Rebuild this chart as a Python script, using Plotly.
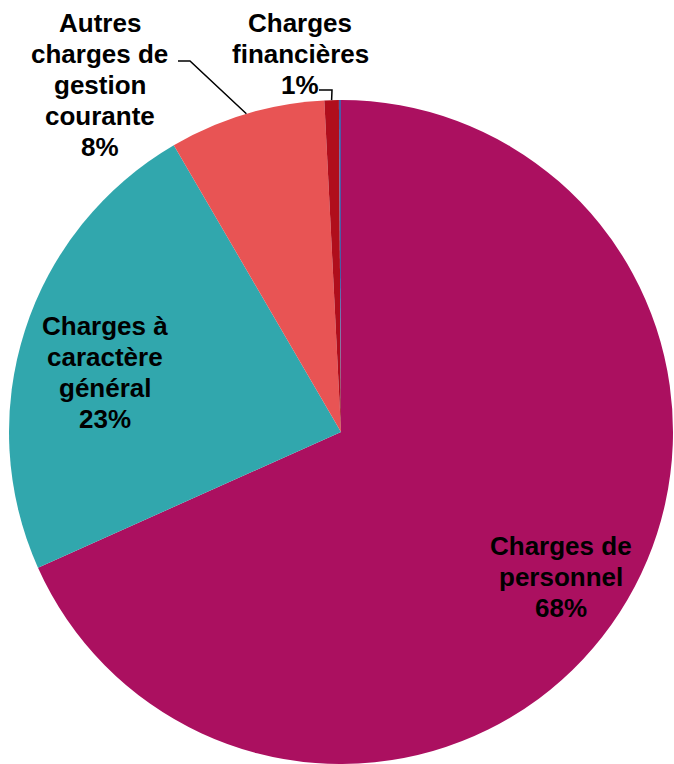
import math
import plotly.graph_objects as go

# Répartition des charges de fonctionnement (en % du total)
categories = [
    "Charges de personnel",
    "Charges à caractère général",
    "Autres charges de gestion courante",
    "Charges financières",
    "Charges exceptionnelles",
]
display_lines = [
    ["Charges de", "personnel"],
    ["Charges à", "caractère", "général"],
    ["Autres", "charges de", "gestion", "courante"],
    ["Charges", "financières"],
    [],
]
values = [68.3, 23.3, 7.6, 0.7, 0.1]
colors = ["#AB1060", "#31A7AD", "#E85454", "#B00E1C", "#4A5AA6"]

W, H = 674, 764
# pie geometry in pixels
x0_px = 8
dom_x = [x0_px / W, 1.0]
dom_h = 664
dom_y = [0.0, dom_h / H]
cx = (x0_px + W) / 2
cy = H - dom_h / 2
R = min(W - x0_px, dom_h) / 2


def px(x, y):
    return x / W, 1 - y / H


fig = go.Figure(go.Pie(
    labels=categories,
    values=values,
    sort=False,
    direction="clockwise",
    rotation=0,
    marker=dict(colors=colors, line=dict(width=0)),
    textinfo="none",
    hoverinfo="skip",
    domain=dict(x=dom_x, y=dom_y),
    showlegend=False,
))

total = sum(values)
cum = 0.0
mid_angles = []
for v in values:
    mid_angles.append((cum + v / 2) / total * 360)
    cum += v


def edge_point(angle_deg, r):
    a = math.radians(angle_deg)
    return cx + r * math.sin(a), cy - r * math.cos(a)


font = dict(family="Arial, Liberation Sans, sans-serif", size=26, color="#000000")
line_gap = 31

# label placements (pixel centres) and leader elbows
placements = {
    0: dict(pos=(561, 577)),
    1: dict(pos=(105, 373)),
    2: dict(pos=(100, 85), elbow=[(178, 61), (190, 61)]),
    3: dict(pos=(300, 54), elbow=[(319, 90), (332, 90)]),
}

annotations = []
shapes = []
for i, p in placements.items():
    pct = round(values[i] / total * 100)
    lines = display_lines[i] + [f"{pct}%"]
    n = len(lines)
    for k, line in enumerate(lines):
        lx, ly = p["pos"][0], p["pos"][1] + (k - (n - 1) / 2) * line_gap
        x, y = px(lx, ly)
        annotations.append(dict(
            x=x, y=y, xref="paper", yref="paper", text=f"<b>{line}</b>",
            showarrow=False, font=font, xanchor="center", yanchor="middle",
        ))
    if "elbow" in p:
        pts = list(p["elbow"]) + [edge_point(mid_angles[i], R)]
        path = "M " + " L ".join(f"{px(a, b)[0]},{px(a, b)[1]}" for a, b in pts)
        shapes.append(dict(type="path", xref="paper", yref="paper", path=path,
                           line=dict(color="#000000", width=1.5)))

fig.update_layout(
    width=W, height=H,
    margin=dict(l=0, r=0, t=0, b=0),
    paper_bgcolor="#FFFFFF",
    plot_bgcolor="#FFFFFF",
    annotations=annotations,
    shapes=shapes,
)

fig.write_html("out.html")
